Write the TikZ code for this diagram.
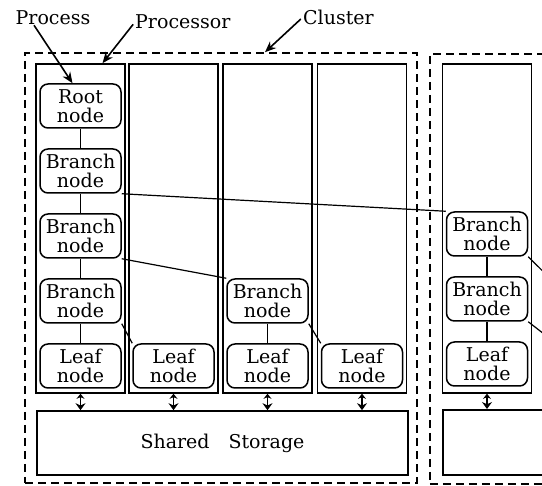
\documentclass[tikz,border=0pt]{standalone}
\usepackage{fontspec}
\setmainfont{DejaVu Serif}
\usetikzlibrary{arrows.meta, positioning, calc}

\begin{document}
\begin{tikzpicture}[x=1pt, y=-1pt,
    proc/.style={draw, line width=1.6pt, minimum width=89pt, minimum height=329pt, inner sep=0pt},
    tnode/.style={draw, fill=white, line width=1.5pt, rounded corners=8pt, minimum width=81pt,
      minimum height=44pt, inner sep=0.5pt, align=center, font=\fontsize{19}{19.5}\selectfont},
    clusterbox/.style={draw, dash pattern=on 8pt off 5pt, line width=1.6pt, inner sep=0pt},
    storage/.style={draw, line width=1.6pt, inner sep=0pt, font=\fontsize{19}{19.5}\selectfont},
    link/.style={line width=1.2pt},
    bus/.style={line width=1.5pt, {Stealth[length=5pt,width=8pt]}-{Stealth[length=7pt,width=10pt]}},
    pointer/.style={line width=1.6pt, -{Stealth[length=11pt,width=9pt]}},
    lbl/.style={font=\fontsize{19}{19.5}\selectfont, inner sep=0pt}]

  \clip (0,0) rectangle (542,486);

  % clusters
  \node[clusterbox, minimum width=392pt, minimum height=430pt] (clu1) at (221,268) {};
  \node[clusterbox, minimum width=200pt, minimum height=430pt, anchor=north west] (clu2) at (429,53) {};

  % processors
  \foreach \i/\x in {1/80.5, 2/173.5, 3/267.5, 4/362, 5/487}
    \node[proc] (col\i) at (\x,228.5) {};

  % shared storage
  \node[storage, minimum width=371pt, minimum height=64pt] (stor1) at (222.5,443) {Shared\quad Storage};
  \node[storage, minimum width=150pt, minimum height=65pt, anchor=north west] (stor2) at (442,409) {};

  % processes, first processor
  \node[tnode] (root) at (80.5,106) {Root\\node};
  \node[tnode, below=19.5pt of root] (b1) {Branch\\node};
  \node[tnode, below=19.5pt of b1] (b2) {Branch\\node};
  \node[tnode, below=19.5pt of b2] (b3) {Branch\\node};
  \node[tnode, below=19.5pt of b3] (leaf1) {Leaf\\node};

  % other processors
  \node[tnode] (leaf2) at (leaf1 -| col2) {Leaf\\node};
  \node[tnode] (b4) at (b3 -| col3) {Branch\\node};
  \node[tnode] (leaf3) at (leaf1 -| col3) {Leaf\\node};
  \node[tnode] (leaf4) at (leaf1 -| col4) {Leaf\\node};

  % second cluster
  \node[tnode] (b5) at (487,234) {Branch\\node};
  \node[tnode, below=19.5pt of b5] (b6) {Branch\\node};
  \node[tnode, below=19.5pt of b6] (leaf5) {Leaf\\node};

  \coordinate (out1) at (580,308);
  \coordinate (out2) at (580,362);

  % tree links
  \draw[link] (root) -- (b1) -- (b2) -- (b3) -- (leaf1);
  \draw[link] (b1.south east) -- (b5.north west);
  \draw[link] (b2.south east) -- (b4.north west);
  \draw[link] (b3.south east) -- (leaf2.north west);
  \draw[link] (b4) -- (leaf3);
  \draw[link] (b4.south east) -- (leaf4.north west);
  \draw[link] (b5) -- (b6) -- (leaf5);
  \draw[link] (b5.south east) -- (out1);
  \draw[link] (b6.south east) -- (out2);

  % storage access
  \foreach \i in {1,...,4}
    \draw[bus] (col\i.south) -- (col\i.south |- stor1.north);
  \draw[bus] (col5.south) -- (col5.south |- stor2.north);

  % labels
  \node[lbl] (procLbl) at (53,18) {Process};
  \node[lbl, anchor=west] (cpuLbl) at (135,22) {Processor};
  \node[lbl, anchor=west] (cluLbl) at (303,17) {Cluster};
  \draw[pointer] ([xshift=-19pt]procLbl.south) -- ([xshift=-8pt]root.north);
  \draw[pointer, shorten <=3pt] (cpuLbl.west) -- ([xshift=22pt]col1.north);
  \draw[pointer, shorten <=3pt] (cluLbl.west) -- ([xshift=44pt]clu1.north);
\end{tikzpicture}
\end{document}
